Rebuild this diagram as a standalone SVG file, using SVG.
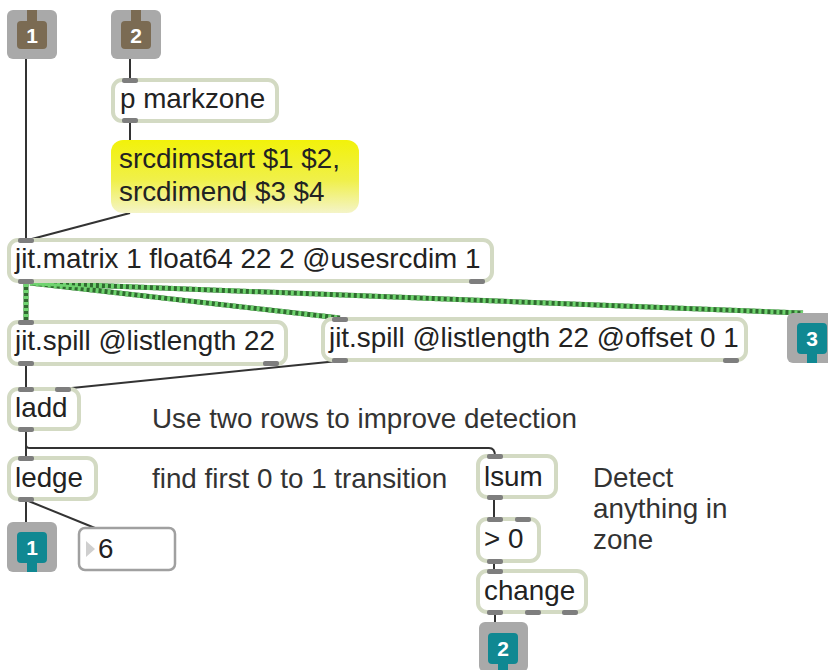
<svg xmlns="http://www.w3.org/2000/svg" width="828" height="670" viewBox="0 0 828 670">
  <defs>
    <linearGradient id="msgFill" x1="0" y1="0" x2="0" y2="1">
      <stop offset="0" stop-color="#f2f20a"/>
      <stop offset="0.55" stop-color="#f0f04a"/>
      <stop offset="1" stop-color="#f4f4c8"/>
    </linearGradient>
  </defs>
  <style>
    text { font-family: "Liberation Sans", Arial, Helvetica, sans-serif; font-size: 27.8px; fill: #222; }
    .obj { fill: #ffffff; stroke: #d3dac3; stroke-width: 4; }
    .port { fill: #7e7e7e; }
    .cord { fill: none; stroke: #333; stroke-width: 2; }
    .mbase { fill: none; stroke: #2f6b2f; stroke-width: 5; }
    .mdash { fill: none; stroke: #6fd36f; stroke-width: 5; stroke-dasharray: 3 3; }
    .ioframe { fill: #a9a9a9; }
    .inbody { fill: #7b6b53; }
    .outbody { fill: #108892; }
    .ionum { font-size: 21px; font-weight: bold; fill: #ffffff; text-anchor: middle; }
    .comment { fill: #333; }
  </style>

  <!-- patch cords -->
  <g id="connectors">
    <path class="cord" d="M26,58 L26,240"/>
    <path class="cord" d="M130,58 L130,81"/>
    <path class="cord" d="M130,122 L130,141"/>
    <path class="cord" d="M130,213 L28,240"/>
    <path class="cord" d="M26,365 L26,389"/>
    <path class="cord" d="M338,361 L62,389"/>
    <path class="cord" d="M26,430 L26,458"/>
    <path class="cord" d="M26,430 L26,445 Q26,448 30,448 L489,448 Q495,448 495,456"/>
    <path class="cord" d="M26,500 L26,523"/>
    <path class="cord" d="M26,500 L95,528"/>
    <path class="cord" d="M494,498 L494,519"/>
    <path class="cord" d="M494,562 L494,571"/>
    <path class="cord" d="M495,613 L495,623"/>
    <!-- matrix cords -->
    <path class="mbase" d="M26,284 L26,322 M30,283 L340,318 M33,283 L803,313"/>
    <path class="mdash" d="M26,284 L26,322 M30,283 L340,318 M33,283 L803,313"/>
  </g>

  <!-- inlet 1 -->
  <g id="inlet1">
    <rect class="ioframe" x="7" y="10" width="50" height="49" rx="6"/>
    <rect class="inbody" x="17" y="21" width="30" height="28" rx="4"/>
    <rect class="inbody" x="27" y="10" width="10" height="13"/>
    <text class="ionum" x="32" y="43">1</text>
  </g>

  <!-- inlet 2 -->
  <g id="inlet2">
    <rect class="ioframe" x="111" y="10" width="50" height="49" rx="6"/>
    <rect class="inbody" x="121" y="21" width="30" height="28" rx="4"/>
    <rect class="inbody" x="131" y="10" width="10" height="13"/>
    <text class="ionum" x="136" y="43">2</text>
  </g>

  <g id="p_markzone">
    <rect class="obj" x="113" y="80" width="164" height="41" rx="9"/>
    <rect class="port" x="122" y="78" width="16" height="5" rx="2"/>
    <rect class="port" x="122" y="118" width="16" height="5" rx="2"/>
    <text x="120" y="108">p markzone</text>
  </g>

  <g id="msg_srcdim">
    <rect x="111" y="140" width="248" height="73" rx="12" fill="url(#msgFill)"/>
    <text x="119" y="168">srcdimstart $1 $2,</text>
    <text x="119" y="201">srcdimend $3 $4</text>
  </g>

  <g id="jit_matrix">
    <rect class="obj" x="9" y="240" width="483" height="41" rx="9"/>
    <rect class="port" x="18" y="238" width="16" height="5" rx="2"/>
    <rect class="port" x="18" y="279" width="16" height="5" rx="2"/>
    <rect class="port" x="469" y="279" width="16" height="5" rx="2"/>
    <text x="15" y="268">jit.matrix 1 float64 22 2 @usesrcdim 1</text>
  </g>

  <g id="jit_spill_a">
    <rect class="obj" x="9" y="322" width="277" height="42" rx="9"/>
    <rect class="port" x="18" y="320" width="16" height="5" rx="2"/>
    <rect class="port" x="18" y="361" width="16" height="5" rx="2"/>
    <rect class="port" x="263" y="361" width="16" height="5" rx="2"/>
    <text x="15" y="350">jit.spill @listlength 22</text>
  </g>

  <g id="jit_spill_b">
    <rect class="obj" x="323" y="319" width="423" height="41" rx="9"/>
    <rect class="port" x="332" y="317" width="16" height="5" rx="2"/>
    <rect class="port" x="332" y="358" width="16" height="5" rx="2"/>
    <rect class="port" x="723" y="358" width="16" height="5" rx="2"/>
    <text x="329" y="347">jit.spill @listlength 22 @offset 0 1</text>
  </g>

  <!-- outlet 3 -->
  <g id="outlet3">
    <rect class="ioframe" x="787" y="313" width="50" height="50" rx="6"/>
    <rect class="outbody" x="797" y="323" width="30" height="31" rx="4"/>
    <rect class="outbody" x="807" y="350" width="10" height="13"/>
    <text class="ionum" x="812" y="346">3</text>
  </g>

  <g id="ladd">
    <rect class="obj" x="9" y="389" width="70" height="40" rx="9"/>
    <rect class="port" x="18" y="387" width="16" height="5" rx="2"/>
    <rect class="port" x="55" y="387" width="16" height="5" rx="2"/>
    <rect class="port" x="18" y="427" width="16" height="5" rx="2"/>
    <text x="15" y="417">ladd</text>
  </g>

  <g id="comment_rows">
    <text class="comment" x="152" y="428">Use two rows to improve detection</text>
  </g>

  <g id="ledge">
    <rect class="obj" x="9" y="458" width="87" height="41" rx="9"/>
    <rect class="port" x="18" y="456" width="16" height="5" rx="2"/>
    <rect class="port" x="18" y="497" width="16" height="5" rx="2"/>
    <text x="15" y="487">ledge</text>
  </g>

  <g id="comment_edge">
    <text class="comment" x="152" y="488">find first 0 to 1 transition</text>
  </g>

  <!-- outlet 1 -->
  <g id="outlet1">
    <rect class="ioframe" x="7" y="522" width="50" height="50" rx="6"/>
    <rect class="outbody" x="17" y="532" width="30" height="31" rx="4"/>
    <rect class="outbody" x="27" y="559" width="10" height="13"/>
    <text class="ionum" x="32" y="555">1</text>
  </g>

  <g id="number_box">
    <rect x="79" y="528" width="96" height="42" rx="6" fill="#ffffff" stroke="#a0a0a0" stroke-width="2.5"/>
    <polygon points="86,541 95,549 86,557" fill="#cfcfcf"/>
    <text x="98" y="558">6</text>
  </g>

  <g id="lsum">
    <rect class="obj" x="478" y="456" width="78" height="41" rx="9"/>
    <rect class="port" x="487" y="454" width="16" height="5" rx="2"/>
    <rect class="port" x="487" y="495" width="16" height="5" rx="2"/>
    <text x="484" y="486">lsum</text>
  </g>

  <g id="greater_zero">
    <rect class="obj" x="478" y="519" width="61" height="42" rx="9"/>
    <rect class="port" x="487" y="517" width="16" height="5" rx="2"/>
    <rect class="port" x="515" y="517" width="16" height="5" rx="2"/>
    <rect class="port" x="487" y="559" width="16" height="5" rx="2"/>
    <text x="484" y="548">&gt; 0</text>
  </g>

  <g id="change">
    <rect class="obj" x="478" y="571" width="108" height="41" rx="9"/>
    <rect class="port" x="487" y="569" width="16" height="5" rx="2"/>
    <rect class="port" x="487" y="610" width="16" height="5" rx="2"/>
    <rect class="port" x="525" y="610" width="16" height="5" rx="2"/>
    <rect class="port" x="562" y="610" width="16" height="5" rx="2"/>
    <text x="484" y="600">change</text>
  </g>

  <g id="comment_detect">
    <text class="comment" x="593" y="487">Detect</text>
    <text class="comment" x="593" y="518">anything in</text>
    <text class="comment" x="593" y="549">zone</text>
  </g>

  <!-- outlet 2 -->
  <g id="outlet2">
    <rect class="ioframe" x="479" y="622" width="49" height="50" rx="6"/>
    <rect class="outbody" x="488" y="633" width="30" height="31" rx="4"/>
    <rect class="outbody" x="498" y="660" width="10" height="12"/>
    <text class="ionum" x="503" y="656">2</text>
  </g>
</svg>
